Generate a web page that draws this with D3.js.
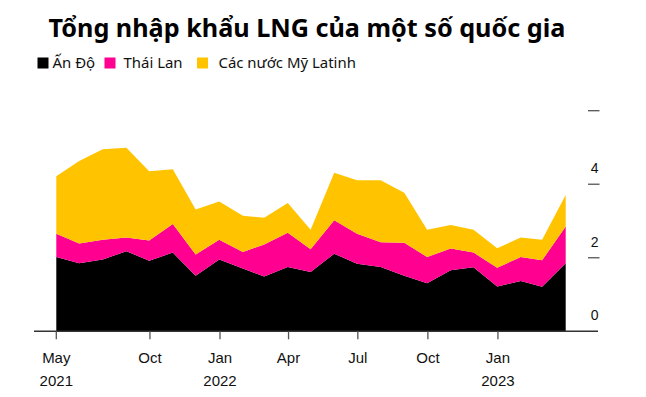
<!DOCTYPE html>
<html>
<head>
<meta charset="utf-8">
<script src="https://cdn.jsdelivr.net/npm/d3@7"></script>
<style>
  body { margin: 0; background: #fff; }
  svg { display: block; }
</style>
</head>
<body>
<div id="chart"></div>
<script>
// monthly LNG imports (stacked), plotted at month end
const months = ["2021-05", "2021-06", "2021-07", "2021-08", "2021-09", "2021-10", "2021-11", "2021-12",
  "2022-01", "2022-02", "2022-03", "2022-04", "2022-05", "2022-06", "2022-07", "2022-08",
  "2022-09", "2022-10", "2022-11", "2022-12", "2023-01", "2023-02", "2023-03"];
const india = [2.02, 1.85, 1.95, 2.18, 1.92, 2.14, 1.51, 1.95, 1.71, 1.49, 1.75, 1.61,
  2.11, 1.84, 1.75, 1.51, 1.31, 1.66, 1.74, 1.22, 1.37, 1.21, 1.85];
const thailand = [0.63, 0.54, 0.54, 0.37, 0.55, 0.78, 0.58, 0.54, 0.45, 0.87, 0.93, 0.62,
  0.91, 0.81, 0.67, 0.90, 0.71, 0.59, 0.40, 0.51, 0.65, 0.72, 1.00];
const latam = [1.57, 2.24, 2.46, 2.44, 1.88, 1.49, 1.22, 1.04, 0.98, 0.73, 0.81, 0.53,
  1.29, 1.46, 1.69, 1.36, 0.74, 0.64, 0.62, 0.53, 0.53, 0.56, 0.86];

const seriesKeys = ["india", "thailand", "latam"];
const seriesNames = ["Ấn Độ", "Thái Lan", "Các nước Mỹ Latinh"];
const colors = ["#000000", "#ff0090", "#ffc300"];

const yTicks = [0, 2, 4, 6];
const yTickLabels = ["0", "2", "4", ""];
const xTickDates = ["2021-05-31", "2021-10-01", "2022-01-01", "2022-04-01", "2022-07-01", "2022-10-01", "2023-01-01"];
const xTickMonths = ["May", "Oct", "Jan", "Apr", "Jul", "Oct", "Jan"];
const xTickYears = ["2021", "", "2022", "", "", "", "2023"];

const title = "Tổng nhập khẩu LNG của một số quốc gia";

var width = 646, height = 397;
var parseMonth = d3.timeParse("%Y-%m");
var parseDay = d3.timeParse("%Y-%m-%d");

var table = months.map(function (m, i) {
  // last day of the month
  var d = d3.timeDay.offset(d3.timeMonth.offset(parseMonth(m), 1), -1);
  return { date: d, india: india[i], thailand: thailand[i], latam: latam[i] };
});

var svg = d3.select("#chart")
  .append("svg")
  .attr("width", width)
  .attr("height", height);

var x = d3.scaleTime()
  .domain(d3.extent(table, function (d) { return d.date; }))
  .range([56.3, 565.7]);

var y = d3.scaleLinear()
  .domain([0, 6])
  .range([331.3, 110.7]);

var stacked = d3.stack().keys(seriesKeys)(table);

var area = d3.area()
  .x(function (d) { return x(d.data.date); })
  .y0(function (d) { return y(d[0]); })
  .y1(function (d) { return y(d[1]); });

svg.append("g")
  .selectAll("path")
  .data(stacked)
  .enter()
  .append("path")
  .attr("d", area)
  .attr("fill", function (d, i) { return colors[i]; });

// title
var t = svg.append("text")
  .attr("x", 48.5)
  .attr("y", 36.7)
  .attr("font-family", "'Noto Sans', sans-serif")
  .attr("font-weight", 700)
  .attr("font-size", 24)
  .attr("fill", "#000")
  .text(title);
fitWidth(t, 517);

// legend
var legendSq = [37.5, 104.5, 197];
var legendTx = [52.5, 123.5, 218.5];
var lg = svg.append("g");
lg.selectAll("rect")
  .data(seriesNames)
  .enter()
  .append("rect")
  .attr("x", function (d, i) { return legendSq[i]; })
  .attr("y", 57.5)
  .attr("width", 11)
  .attr("height", 11)
  .attr("fill", function (d, i) { return colors[i]; });
var lt = lg.selectAll("text")
  .data(seriesNames)
  .enter()
  .append("text")
  .attr("x", function (d, i) { return legendTx[i]; })
  .attr("y", 68.3)
  .attr("font-family", "'Noto Sans', sans-serif")
  .attr("font-size", 14)
  .attr("fill", "#111")
  .text(function (d) { return d; });
fitWidth(d3.select(lt.nodes()[2]), 137.5);
lt.attr("font-size", d3.select(lt.nodes()[2]).attr("font-size"));

// y axis on the right: short marks with labels above
var yg = svg.append("g");
yg.selectAll("line")
  .data(yTicks.filter(function (v) { return v > 0; }))
  .enter()
  .append("line")
  .attr("x1", 588)
  .attr("x2", 599.5)
  .attr("y1", function (d) { return y(d); })
  .attr("y2", function (d) { return y(d); })
  .attr("stroke", "#555")
  .attr("stroke-width", 1.3);
yg.selectAll("text")
  .data(yTicks)
  .enter()
  .append("text")
  .attr("x", 594.7)
  .attr("y", function (d) { return y(d) - 11; })
  .attr("text-anchor", "middle")
  .attr("font-family", "'Liberation Sans', Arial, sans-serif")
  .attr("font-size", 14)
  .attr("fill", "#111")
  .text(function (d, i) { return yTickLabels[i]; });

// x axis
var xg = svg.append("g");
xg.append("line")
  .attr("x1", 34)
  .attr("x2", 598)
  .attr("y1", y(0))
  .attr("y2", y(0))
  .attr("stroke", "#333")
  .attr("stroke-width", 1.5);
var xt = xg.selectAll("g.tick")
  .data(xTickDates)
  .enter()
  .append("g")
  .attr("class", "tick")
  .attr("transform", function (d) { return "translate(" + x(parseDay(d)) + ",0)"; });
xt.append("line")
  .attr("y1", y(0))
  .attr("y2", y(0) + 8)
  .attr("stroke", "#555")
  .attr("stroke-width", 1.3);
xt.append("text")
  .attr("y", 363.3)
  .attr("text-anchor", "middle")
  .attr("font-family", "'Liberation Sans', Arial, sans-serif")
  .attr("font-size", 15)
  .attr("fill", "#111")
  .text(function (d, i) { return xTickMonths[i]; });
xt.append("text")
  .attr("y", 386)
  .attr("text-anchor", "middle")
  .attr("font-family", "'Liberation Sans', Arial, sans-serif")
  .attr("font-size", 15)
  .attr("fill", "#111")
  .text(function (d, i) { return xTickYears[i]; });

function fitWidth(sel, target) {
  var w = sel.node().getComputedTextLength();
  var fs = parseFloat(sel.attr("font-size"));
  sel.attr("font-size", (fs * target / w).toFixed(2));
}
</script>
</body>
</html>
